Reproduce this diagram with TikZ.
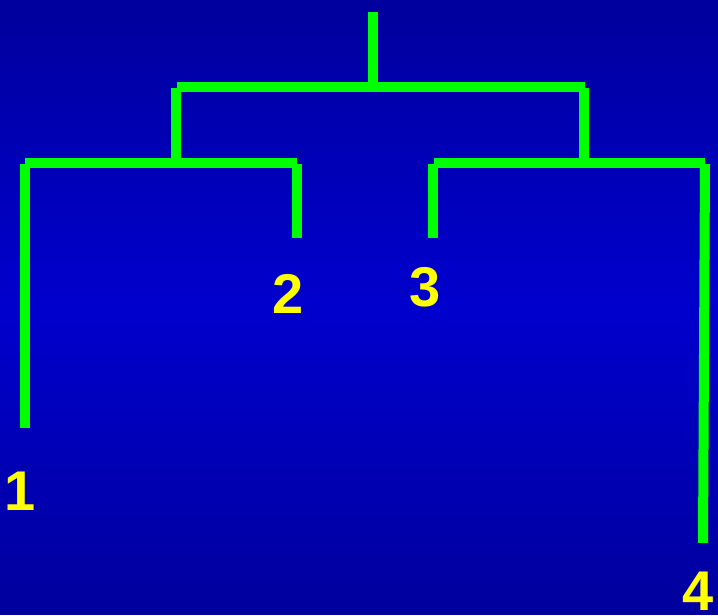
\documentclass[tikz,border=0pt]{standalone}
\usepackage{fontspec}
\setmainfont{Liberation Sans}
\usepackage{tikz}
\definecolor{bgtop}{RGB}{0,0,158}
\definecolor{bgmid}{RGB}{0,0,205}
\definecolor{treegreen}{RGB}{0,255,0}
\definecolor{leafyellow}{RGB}{255,255,0}

\begin{document}
\begin{tikzpicture}[x=1pt, y=-1pt, branch/.style = {draw=treegreen, line width=10pt}, leaf/.style = {text=leafyellow, inner sep=0pt, font=\fontsize{56}{56}\selectfont\bfseries}]
            % background: dark at top and bottom, brighter in the middle
            \foreach \i in {0,...,63} {
                \pgfmathsetmacro{\mix}{100*(1-abs(\i-31.5)/31.5)}
                \fill[bgmid!\mix!bgtop] (0,\i*9.6) rectangle (718,\i*9.6+10.6);
            }
            \useasboundingbox (0,0) rectangle (718,614);

            \coordinate (root) at (373,12);
            \coordinate (top) at (373,87);
            \coordinate (topL) at (177,87);
            \coordinate (topR) at (585,87);
            \coordinate (upL) at (176,88);
            \coordinate (upR) at (584,88);
            \coordinate (midL) at (176,163);
            \coordinate (midR) at (584,163);
            \coordinate (barL) at (25,163);
            \coordinate (barLe) at (297,163);
            \coordinate (barR) at (434,163);
            \coordinate (barRe) at (705,163);
            \coordinate (s1) at (25,164);
            \coordinate (s2) at (297,164);
            \coordinate (s3) at (433,164);
            \coordinate (s4) at (705,164);
            \coordinate (e1) at (25,428);
            \coordinate (e2) at (297,238);
            \coordinate (e3) at (433,238);
            \coordinate (e4) at (703,543);

            \node[leaf] (L1) at (20,491) {1};
            \node[leaf] (L2) at (288,294) {2};
            \node[leaf] (L3) at (425,287) {3};
            \node[leaf] (L4) at (698,591) {4};

            \draw[branch] (root) -- (top);
            \draw[branch] (topL) -- (topR);
            \draw[branch] (upL) -- (midL);
            \draw[branch] (upR) -- (midR);
            \draw[branch] (barL) -- (barLe);
            \draw[branch] (barR) -- (barRe);
            \draw[branch] (s1) -- (e1);
            \draw[branch] (s2) -- (e2);
            \draw[branch] (s3) -- (e3);
            \draw[branch] (s4) -- (e4);
        \end{tikzpicture}
\end{document}
